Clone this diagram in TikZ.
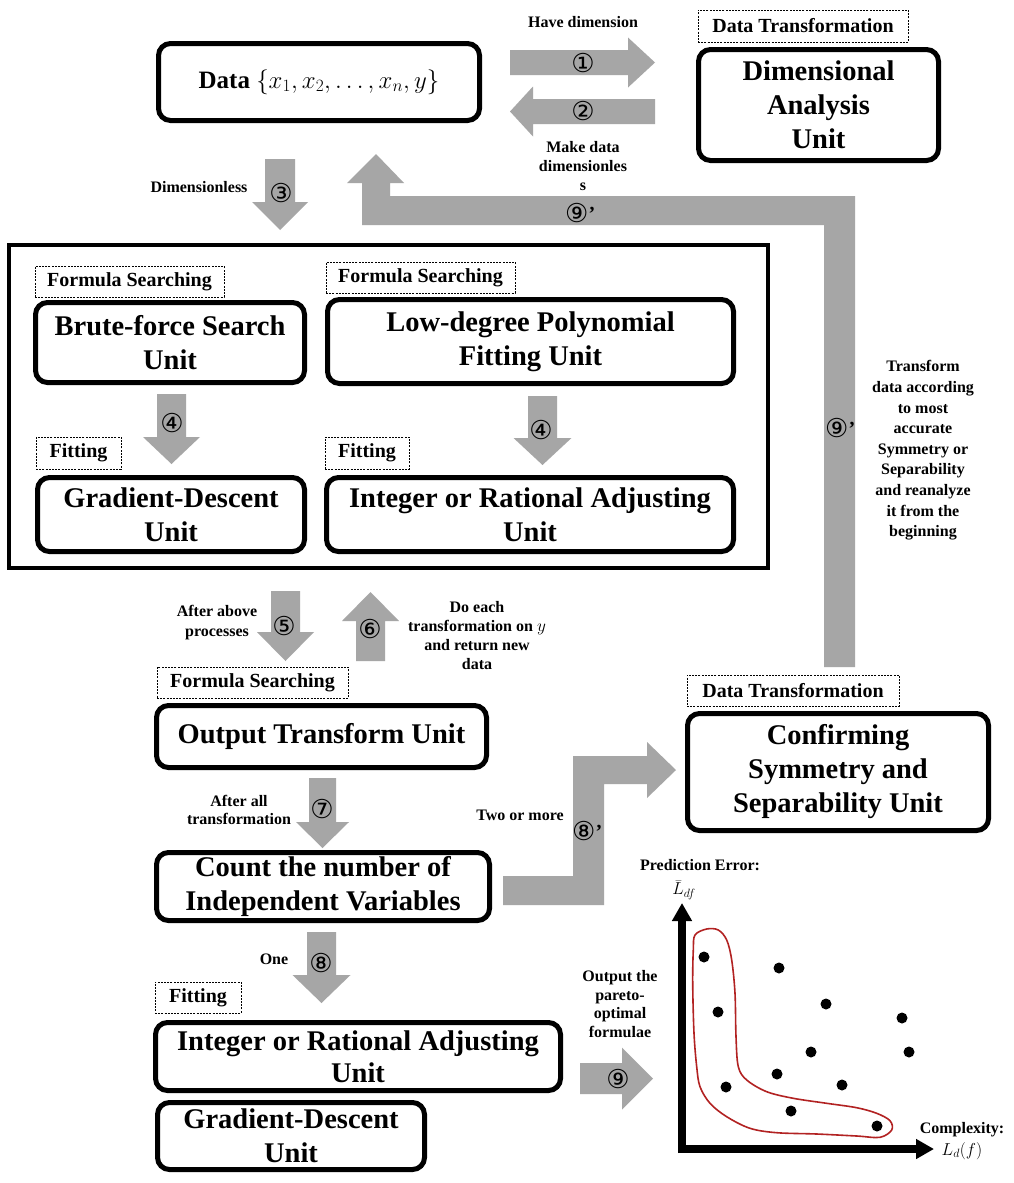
\documentclass[tikz,border=0pt]{standalone}
\usepackage{fontspec}
\setmainfont{Liberation Serif}
\newfontfamily\circfont{DejaVu Sans}
\usetikzlibrary{arrows.meta}
\definecolor{agray}{RGB}{166,166,166}
\definecolor{cred}{RGB}{178,34,34}
\newcommand{\arrV}[6]{\fill[agray] ({#1-#5},#2) -- ({#1+#5},#2) -- ({#1+#5},#3) -- ({#1+#6},#3) -- (#1,#4) -- ({#1-#6},#3) -- ({#1-#5},#3) -- cycle;}
\newcommand{\arrH}[6]{\fill[agray] (#2,{#1-#5}) -- (#2,{#1+#5}) -- (#3,{#1+#5}) -- (#3,{#1+#6}) -- (#4,#1) -- (#3,{#1-#6}) -- (#3,{#1-#5}) -- cycle;}
\newcommand{\prm}{{\rmfamily\bfseries\fontsize{20}{20}\selectfont\raisebox{2pt}{’}}}
\begin{document}
\begin{tikzpicture}[x=1pt,y=-1pt,
 unit/.style={draw,line width=5pt,rounded corners=12pt,align=center,inner sep=0pt,font=\bfseries\fontsize{28.5}{34}\selectfont},
 tag/.style={draw,line width=0.9pt,dash pattern=on 2pt off 1.2pt,inner sep=0pt,font=\bfseries\fontsize{20}{24}\selectfont},
 lbl/.style={align=center,inner sep=0pt,font=\bfseries\fontsize{16}{19}\selectfont},
 num/.style={inner sep=0pt,font=\circfont\fontsize{26}{26}\selectfont},
 dot/.style={circle,fill=black,inner sep=0pt,minimum size=11pt},
 axis/.style={line width=8pt,-{Triangle[width=19pt,length=18pt]}},
]
\fill[white] (0,0) rectangle (1013,1183);
\useasboundingbox (0,0) rectangle (1013,1183);

% ---------- block arrows ----------
\arrH{62.5}{510}{628}{655}{12.5}{25}
\arrH{111.5}{655}{533}{510}{12.5}{25}
\arrV{280}{159}{202}{230}{15}{28}
\arrV{171.5}{394}{437}{464}{14.5}{28.5}
\arrV{542.5}{396}{438}{465}{14.5}{29}
\arrV{285.5}{591}{632}{661}{14.5}{28.5}
\arrV{370.5}{661}{621}{592}{14.5}{28.5}
\arrV{322.5}{778}{822}{848}{13.5}{26.5}
\arrV{321.5}{932}{975}{1003}{14.5}{29}
\arrH{1078.5}{580}{622}{653}{15.5}{31}
% 9' return arrow
\fill[agray] (376,154) -- (404,183) -- (390,183) -- (390,196) -- (855,196) -- (855,667)
  -- (824,667) -- (824,225) -- (362,225) -- (362,183) -- (347,183) -- cycle;
% 8' arrow
\fill[agray] (503,876) -- (573,876) -- (573,756) -- (647,756) -- (647,742) -- (676,770)
  -- (647,798) -- (647,784) -- (604,784) -- (604,905) -- (503,905) -- cycle;

% ---------- boxes ----------
\node[unit,minimum width=321pt,minimum height=77pt,font=\bfseries\fontsize{25}{30}\selectfont] (data) at (319,82) {Data {\fontsize{27}{30}\selectfont$\{x_1, x_2, \dots, x_n, y\}$}};
\node[tag,minimum width=210pt,minimum height=32pt] (dt1) at (803,26) {Data Transformation};
\node[unit,minimum width=240pt,minimum height=111pt] (dim) at (818.5,105) {Dimensional\\Analysis\\Unit};

\node[draw,line width=4pt,minimum width=759pt,minimum height=323pt,inner sep=0pt] (outer) at (388.5,406.5) {};
\node[tag,minimum width=189pt,minimum height=31pt] (fs1) at (129.5,281.5) {Formula Searching};
\node[tag,minimum width=189pt,minimum height=31pt] (fs2) at (420.5,277.5) {Formula Searching};
\node[unit,minimum width=269pt,minimum height=80pt] (brute) at (170,342.5) {Brute-force Search\\Unit};
\node[unit,minimum width=406pt,minimum height=84pt] (lowdeg) at (530.5,341.5) {Low-degree Polynomial\\Fitting Unit};
\node[tag,minimum width=85pt,minimum height=32pt] (fit1) at (78.5,453) {Fitting};
\node[tag,minimum width=84pt,minimum height=32pt] (fit2) at (367,453) {Fitting};
\node[unit,minimum width=267pt,minimum height=74pt] (gd1) at (171,514.5) {Gradient-Descent\\Unit};
\node[unit,minimum width=407pt,minimum height=74pt] (int1) at (530,514.5) {Integer or Rational Adjusting\\Unit};

\node[tag,minimum width=191pt,minimum height=31pt] (fs3) at (252.5,682.5) {Formula Searching};
\node[unit,minimum width=330pt,minimum height=62pt] (out) at (321.5,736.5) {Output Transform Unit};
\node[unit,minimum width=333pt,minimum height=68pt] (count) at (323,886.5) {Count the number of\\Independent Variables};
\node[tag,minimum width=212pt,minimum height=31pt] (dt2) at (793,690.5) {Data Transformation};
\node[unit,minimum width=301pt,minimum height=117pt] (conf) at (838,772) {Confirming\\Symmetry and\\Separability Unit};
\node[tag,minimum width=86pt,minimum height=31pt] (fit3) at (198,997.5) {Fitting};
\node[unit,minimum width=405pt,minimum height=68pt,font=\bfseries\fontsize{28.5}{32}\selectfont] (int2) at (358,1056.5) {Integer or Rational Adjusting\\Unit};
\node[unit,minimum width=267pt,minimum height=67pt] (gd2) at (291,1136) {Gradient-Descent\\Unit};

% ---------- labels ----------
\node[lbl] (l1) at (583,22) {Have dimension};
\node[lbl] (l2) at (583,166) {Make data\\dimensionles\\s};
\node[lbl] (l3) at (199,187) {Dimensionless};
\node[lbl,font=\bfseries\fontsize{16}{20.6}\selectfont] (l9) at (923,450.5) {Transform\\data according\\to most\\accurate\\Symmetry or\\Separability\\and reanalyze\\it from the\\beginning};
\node[lbl,font=\bfseries\fontsize{16}{20}\selectfont] (l5) at (217,623) {After above\\processes};
\node[lbl] (l6) at (477,635.5) {Do each\\transformation on $y$\\and return new\\data};
\node[lbl,font=\bfseries\fontsize{16}{18}\selectfont] (l7) at (239,810) {After all\\transformation};
\node[lbl] (l8b) at (520,815) {Two or more};
\node[lbl] (l8) at (274,959) {One};
\node[lbl,font=\bfseries\fontsize{16}{18.7}\selectfont] (l9b) at (620,1004) {Output the\\pareto-\\optimal\\formulae};

% ---------- circled numbers ----------
\node[num] (n1) at (583,63) {①};
\node[num] (n2) at (583,111) {②};
\node[num] (n3) at (281,193) {③};
\node[num] (n4a) at (172,423) {④};
\node[num] (n4b) at (541,430) {④};
\node[num] (n5) at (284,626) {⑤};
\node[num] (n6) at (370,629) {⑥};
\node[num] (n7) at (322,809) {⑦};
\node[num] (n8) at (321,963) {⑧};
\node[num] (n9) at (618,1079) {⑨};
\node[num,anchor=west] (n9a) at (565,213) {⑨\prm};
\node[num,anchor=west] (n9b) at (825,428) {⑨\prm};
\node[num,anchor=west] (n8a) at (572,831) {⑧\prm};

% ---------- Pareto plot ----------
\coordinate (ybot) at (682,1153);
\coordinate (ytip) at (682,903);
\coordinate (xleft) at (678,1149);
\coordinate (xtip) at (934,1149);
\draw[axis] (ybot) -- (ytip);
\draw[axis] (xleft) -- (xtip);
\node[lbl] (pe) at (700,865) {Prediction Error:};
\node[inner sep=0pt,font=\fontsize{17}{19}\selectfont] (ldf) at (684,890) {$\bar{L}_{df}$};
\node[lbl] (cx) at (962,1130) {Complexity:};
\node[inner sep=0pt,font=\fontsize{18}{20}\selectfont] (ldfx) at (962,1151) {$L_d(f)$};
\foreach \i/\p in {1/{(704,957)},2/{(779,968)},3/{(826,1004)},4/{(902,1018)},5/{(718,1012)},6/{(811,1052)},7/{(909,1052)},8/{(777,1074)},9/{(842,1085)},10/{(726,1087)},11/{(791,1111)},12/{(877,1126)}}
  \node[dot] (d\i) at \p {};
\draw[cred,line width=1.6pt] plot[smooth cycle,tension=0.55] coordinates {
 (706.7,929) (695,935) (693.3,950) (692.7,983.3) (694,1033.3) (696.7,1066.7) (700,1086.7)
 (710,1103.3) (726.7,1116.7) (750,1128.3) (776.7,1132.7) (816.7,1134) (856.7,1136) (880,1137.3)
 (891.7,1130) (890,1120.7) (876.7,1113.3) (856.7,1107.7) (826.7,1103.3) (793.3,1098.3)
 (766.7,1091.7) (746.7,1080) (738.3,1066.7) (736,1036.7) (735,993.3) (731.7,960) (726.7,940) (718.3,930)};
\end{tikzpicture}
\end{document}
